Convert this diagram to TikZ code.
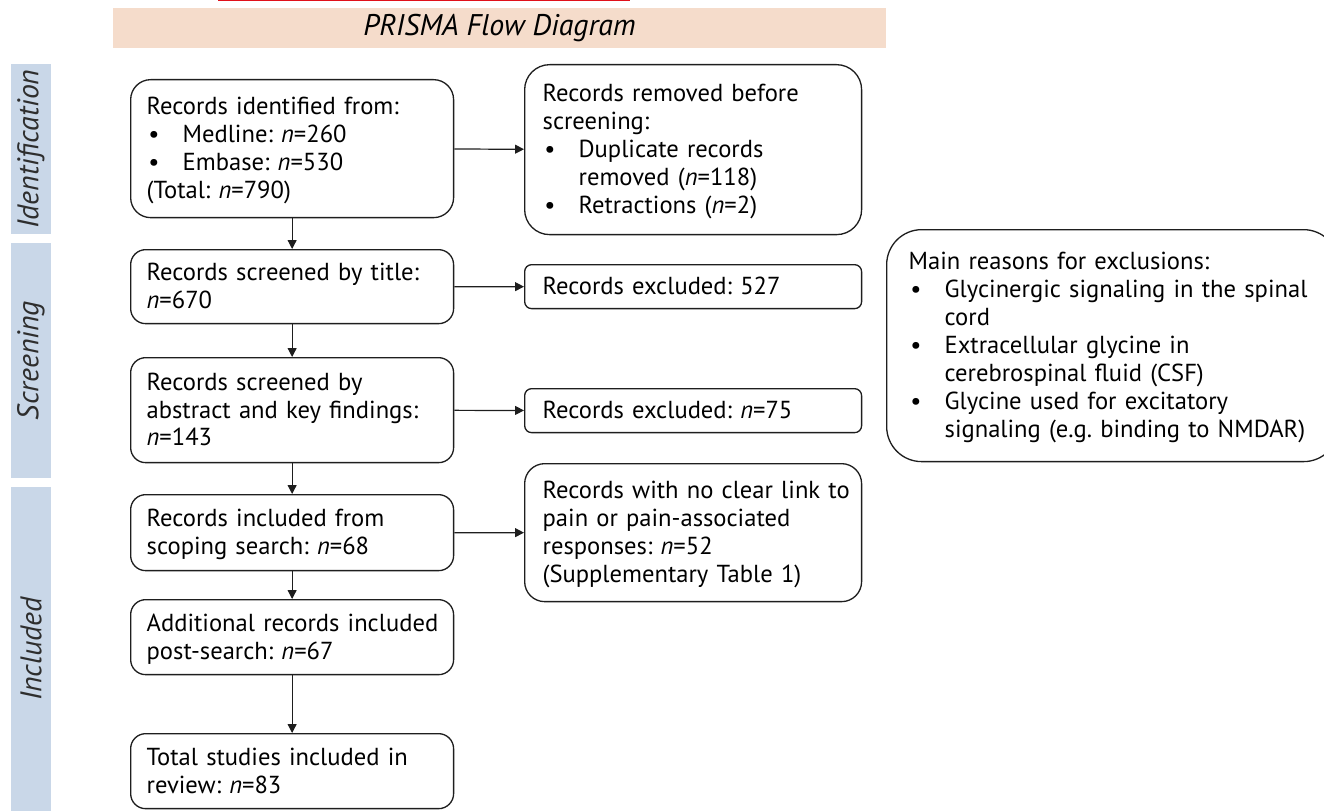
\documentclass[tikz,border=0pt]{standalone}
\usepackage{fontspec}
\setmainfont{PT Sans}
\frenchspacing
\usetikzlibrary{positioning, arrows.meta}

\definecolor{headfill}{HTML}{F5DCCB}
\definecolor{sidefill}{HTML}{C9D7E8}
\definecolor{sidetext}{HTML}{2E2E2E}
\definecolor{linegray}{HTML}{1E1E1E}
\definecolor{topred}{HTML}{E0101A}

\newcommand{\bul}{\makebox[0.72cm][l]{\hspace{1pt}\textbullet}}
\newcommand{\ind}{\hspace*{0.72cm}}
\newcommand{\nn}{\textit{n}}
\newcommand{\txtrows}[1]{\raisebox{-1.3pt}[\height][\depth]{\begin{tabular}{@{}l@{}}#1\end{tabular}}}

\begin{document}
\begin{tikzpicture}[x=0.02cm, y=-0.02cm,
    box/.style={draw=linegray, % Box edge colour.
    line width=0.75pt,
    rounded corners=0.3cm,
    anchor=north west,
    align=left,
    inner xsep=0.32cm,
    inner ysep=0pt,
    font=\fontsize{14}{15.9}\selectfont},
    lbox/.style={box, minimum width=6.46cm, text width=5.82cm},
    rbox/.style={box, minimum width=6.74cm, text width=6.02cm, inner xsep=0.36cm},
    side/.style={fill=sidefill, % Side band fill colour.
    text=sidetext,
    rotate=90,
    minimum height=0.8cm,
    inner sep=0pt,
    font=\fontsize{17}{19}\selectfont\itshape},
    arrow/.style={-{Triangle[length=5pt, width=5pt]}, line width=0.7pt, draw=linegray}]

        \useasboundingbox (0,0) rectangle (1324,811);
        \clip (0,0) rectangle (1324,811);

        % Header.
        \fill[topred] (218,0) rectangle (630,1.5);
        \node[fill=headfill, minimum width=15.46cm, minimum height=0.8cm, inner sep=0pt,
            font=\fontsize{17}{19}\selectfont\itshape] (head) at (499.5,28) {PRISMA Flow Diagram};

        % Side bands.
        \node[side, minimum width=3.4cm] (idbar) at (31,149) {Identification};
        \node[side, minimum width=4.7cm] (scbar) at (31,360.5) {Screening};
        \node[side, minimum width=6.48cm] (inbar) at (31,649) {Included};

        % Left column.
        \node[lbox, minimum height=2.76cm, rounded corners=0.4cm] (ident) at (130,79)
            {\txtrows{Records identified from:\\ \bul Medline: \nn=260\\ \bul Embase: \nn=530\\ (Total: \nn=790)}};
        \node[lbox, minimum height=1.48cm] (title) at (130,249)
            {\txtrows{Records screened by title:\\ \nn=670}};
        \node[lbox, minimum height=2.1cm] (abstr) at (130,357)
            {\txtrows{Records screened by\\ abstract and key findings:\\ \nn=143}};
        \node[lbox, minimum height=1.52cm] (scope) at (130,494)
            {\txtrows{Records included from\\ scoping search: \nn=68}};
        \node[lbox, minimum height=1.5cm] (extra) at (130,599)
            {\txtrows{Additional records included\\ post-search: \nn=67}};
        \node[lbox, minimum height=1.5cm] (total) at (130,733)
            {\txtrows{Total studies included in\\ review: \nn=83}};

        % Right column.
        \node[rbox, minimum height=3.4cm, rounded corners=0.5cm] (removed) at (524,64)
            {\txtrows{Records removed before\\ screening:\\ \bul Duplicate records\\ \ind removed (\nn=118)\\ \bul Retractions (\nn=2)}};
        \node[rbox, minimum height=0.88cm, rounded corners=0.14cm] (exclt) at (524,264)
            {\txtrows{Records excluded: 527}};
        \node[rbox, minimum height=0.88cm, rounded corners=0.14cm] (excla) at (524,388)
            {\txtrows{Records excluded: \nn=75}};
        \node[rbox, minimum height=2.76cm, rounded corners=0.4cm] (nolink) at (524,463)
            {\txtrows{Records with no clear link to\\ pain or pain-associated\\ responses: \nn=52\\ (Supplementary Table 1)}};

        % Exclusion reasons.
        \node[box, minimum width=9.04cm, text width=8.16cm, inner xsep=0.44cm,
            minimum height=4.64cm, rounded corners=0.7cm] (reasons) at (886,229)
            {\txtrows{Main reasons for exclusions:\\ \bul Glycinergic signaling in the spinal\\ \ind cord\\
             \bul Extracellular glycine in\\ \ind cerebrospinal fluid (CSF)\\
             \bul Glycine used for excitatory\\ \ind signaling (e.g. binding to NMDAR)}};

        % Downward arrows.
        \foreach \i/\j in {ident/title, title/abstr, abstr/scope, scope/extra, extra/total}
        \draw[arrow] (\i) -- (\j);

        % Sideways arrows.
        \foreach \i/\j in {ident/removed, title/exclt, abstr/excla, scope/nolink}
        \draw[arrow] (\i) -- (\j);
    \end{tikzpicture}
\end{document}
